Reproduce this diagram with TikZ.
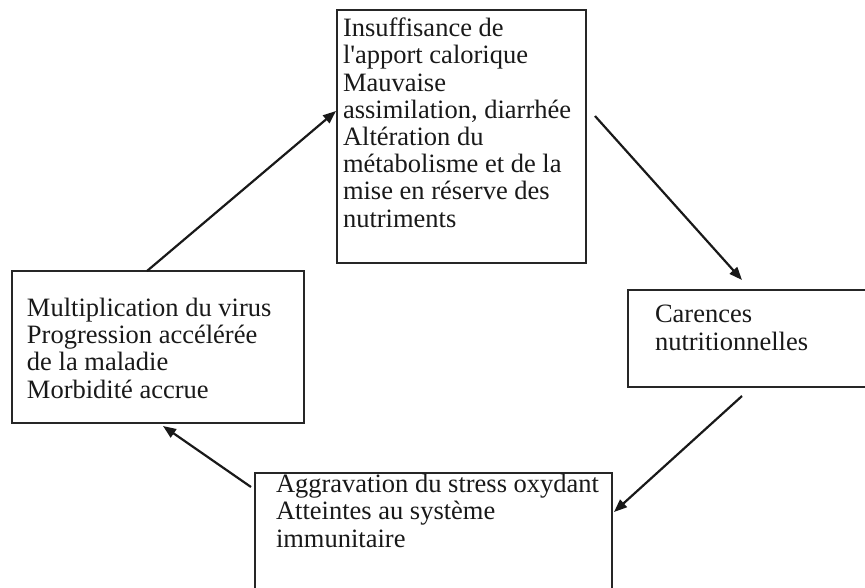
\documentclass[tikz,border=0pt]{standalone}
\usepackage{fontspec}
\setmainfont{Liberation Serif}[Ligatures=TeXOff]
\usetikzlibrary{arrows.meta,calc}
\tikzset{
  box/.style={draw=black!85, line width=2.2pt, inner sep=0pt, outer sep=0pt, anchor=north west},
  txt/.style={inner sep=0pt, outer sep=0pt, anchor=base west, align=left,
    font=\fontsize{26.5}{27.2}\selectfont, text=black!90},
  arr/.style={line width=2.2pt, draw=black!90, -{Triangle[length=13pt,width=10pt]}}
}
\begin{document}
\begin{tikzpicture}[x=1pt,y=-1pt]
\useasboundingbox (0,0) rectangle (865,587);
% boxes
\node[box, minimum width=249pt, minimum height=253pt] (tb) at (337,10) {};
\node[box, minimum width=250pt, minimum height=97pt] (rb) at (628,290) {};
\node[box, minimum width=292pt, minimum height=152pt] (lb) at (12,271) {};
\node[box, minimum width=357pt, minimum height=130pt] (bb) at (255,473) {};
% texts (anchored at the baseline of their last line)
\node[txt] (tbt) at (343,227) {Insuffisance de\\l'apport calorique\\Mauvaise\\assimilation, diarrhée\\Altération du\\métabolisme et de la\\mise en réserve des\\nutriments};
\node[txt] (rbt) at (655,350) {Carences\\nutritionnelles};
\node[txt] (lbt) at (27,398) {Multiplication du virus\\Progression accélérée\\de la maladie\\Morbidité accrue};
\node[txt] (bbt) at (276,547) {Aggravation du stress oxydant\\Atteintes au système\\immunitaire};
% connector ends
\coordinate (a1s) at ($(lb.north west)+(135,0)$);
\coordinate (a1e) at ($(tb.north west)+(-1,101)$);
\coordinate (a2s) at ($(tb.north east)+(9,106)$);
\coordinate (a2e) at ($(rb.north west)+(114,-10)$);
\coordinate (a3s) at ($(rb.south west)+(114,9)$);
\coordinate (a3e) at ($(bb.north east)+(2,39)$);
\coordinate (a4s) at ($(bb.north west)+(-4,14)$);
\coordinate (a4e) at ($(lb.south west)+(151,3)$);
\draw[arr] (a1s) -- (a1e);
\draw[arr] (a2s) -- (a2e);
\draw[arr] (a3s) -- (a3e);
\draw[arr] (a4s) -- (a4e);
\end{tikzpicture}
\end{document}
